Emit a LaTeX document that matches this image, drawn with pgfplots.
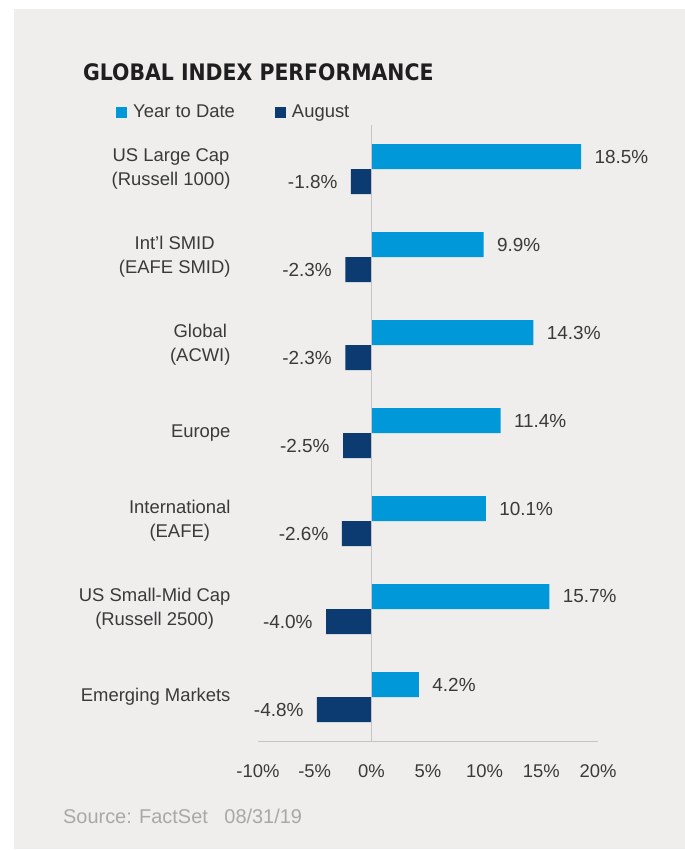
\documentclass[border=0pt]{standalone}
\usepackage{fontspec}
\setmainfont{Liberation Sans}
\newfontfamily\titlefont{DejaVu Sans Condensed}
\usepackage{pgfplots}
\pgfplotsset{compat=1.18}
\definecolor{ytd}{HTML}{0098D9}
\definecolor{aug}{HTML}{0B3B70}
\definecolor{panel}{HTML}{EFEEEC}
\definecolor{txt}{HTML}{3A3A3A}
\definecolor{axgray}{HTML}{C4C4C4}
\definecolor{src}{HTML}{A8A8A8}
\begin{document}
\begin{tikzpicture}[x=1bp,y=1bp]
\useasboundingbox (0,0) rectangle (685,-850);
\fill[white] (0,0) rectangle (685,-850);
\fill[panel] (14,-9) rectangle (685,-849);
\node[anchor=base west, inner sep=0, font=\titlefont\bfseries\fontsize{22.8}{27}\selectfont, text=black!88] at (83,-80) {GLOBAL INDEX PERFORMANCE};
\node[anchor=base west, inner sep=0, text=src, font=\fontsize{20}{23}\selectfont] at (63,-823) {Source: FactSet\hspace{11bp} 08/31/19};
\begin{axis}[
  at={(258bp,-741bp)}, anchor=south west,
  scale only axis, width=340bp, height=616bp,
  xmin=-10, xmax=20, ymin=-0.5, ymax=6.5,
  clip=false,
  xbar, bar width=0.284,
  axis line style={draw=none},
  major tick length=0,
  /pgf/number format/assume math mode=true,
  xtick={-10,-5,0,5,10,15,20},
  xticklabel={\pgfmathprintnumber{\tick}\%},
  xticklabel style={font=\fontsize{18.5}{21}\selectfont, text=txt, anchor=base, yshift=-36bp},
  ytick={0,1,2,3,4,5,6},
  yticklabels={{Emerging Markets},{US Small-Mid Cap\\(Russell 2500)},{International\\(EAFE)},{Europe},{Global\\(ACWI)},{Int'l SMID\\(EAFE SMID)},{US Large Cap\\(Russell 1000)}},
  yticklabel style={font=\fontsize{18.5}{24}\selectfont, text=txt, align=center, anchor=east, xshift=-24bp},
  point meta=x,
  nodes near coords={\pgfmathprintnumber[fixed,fixed zerofill,precision=1,assume math mode=true]{\pgfplotspointmeta}\%},
  legend style={at={(-0.4176,1.0211)}, anchor=west, draw=none, fill=none, inner sep=0pt,
    legend columns=2, font=\fontsize{18.5}{21}\selectfont, text=txt,
    /tikz/every odd column/.append style={column sep=4bp},
    /tikz/every even column/.append style={column sep=38bp}},
  legend image code/.code={\fill[#1,draw=none] (0bp,-5.5bp) rectangle (11bp,5.5bp);},
]
\addplot[fill=ytd, draw=none, bar shift=0.142,
  nodes near coords style={anchor=west, xshift=10bp, text=txt, font=\fontsize{19}{21}\selectfont}]
  coordinates {(4.2,0) (15.7,1) (10.1,2) (11.4,3) (14.3,4) (9.9,5) (18.5,6)};
\addplot[fill=aug, draw=none, bar shift=-0.142,
  nodes near coords style={anchor=east, xshift=-10bp, text=txt, font=\fontsize{19}{21}\selectfont}]
  coordinates {(-4.8,0) (-4.0,1) (-2.6,2) (-2.5,3) (-2.3,4) (-2.3,5) (-1.8,6)};
\legend{Year to Date, August}
\draw[axgray, line width=1bp] (axis cs:-10,-0.5) -- (axis cs:20,-0.5);
\draw[axgray, line width=1bp] (axis cs:0,-0.5) -- (axis cs:0,6.5);
\end{axis}
\end{tikzpicture}
\end{document}
